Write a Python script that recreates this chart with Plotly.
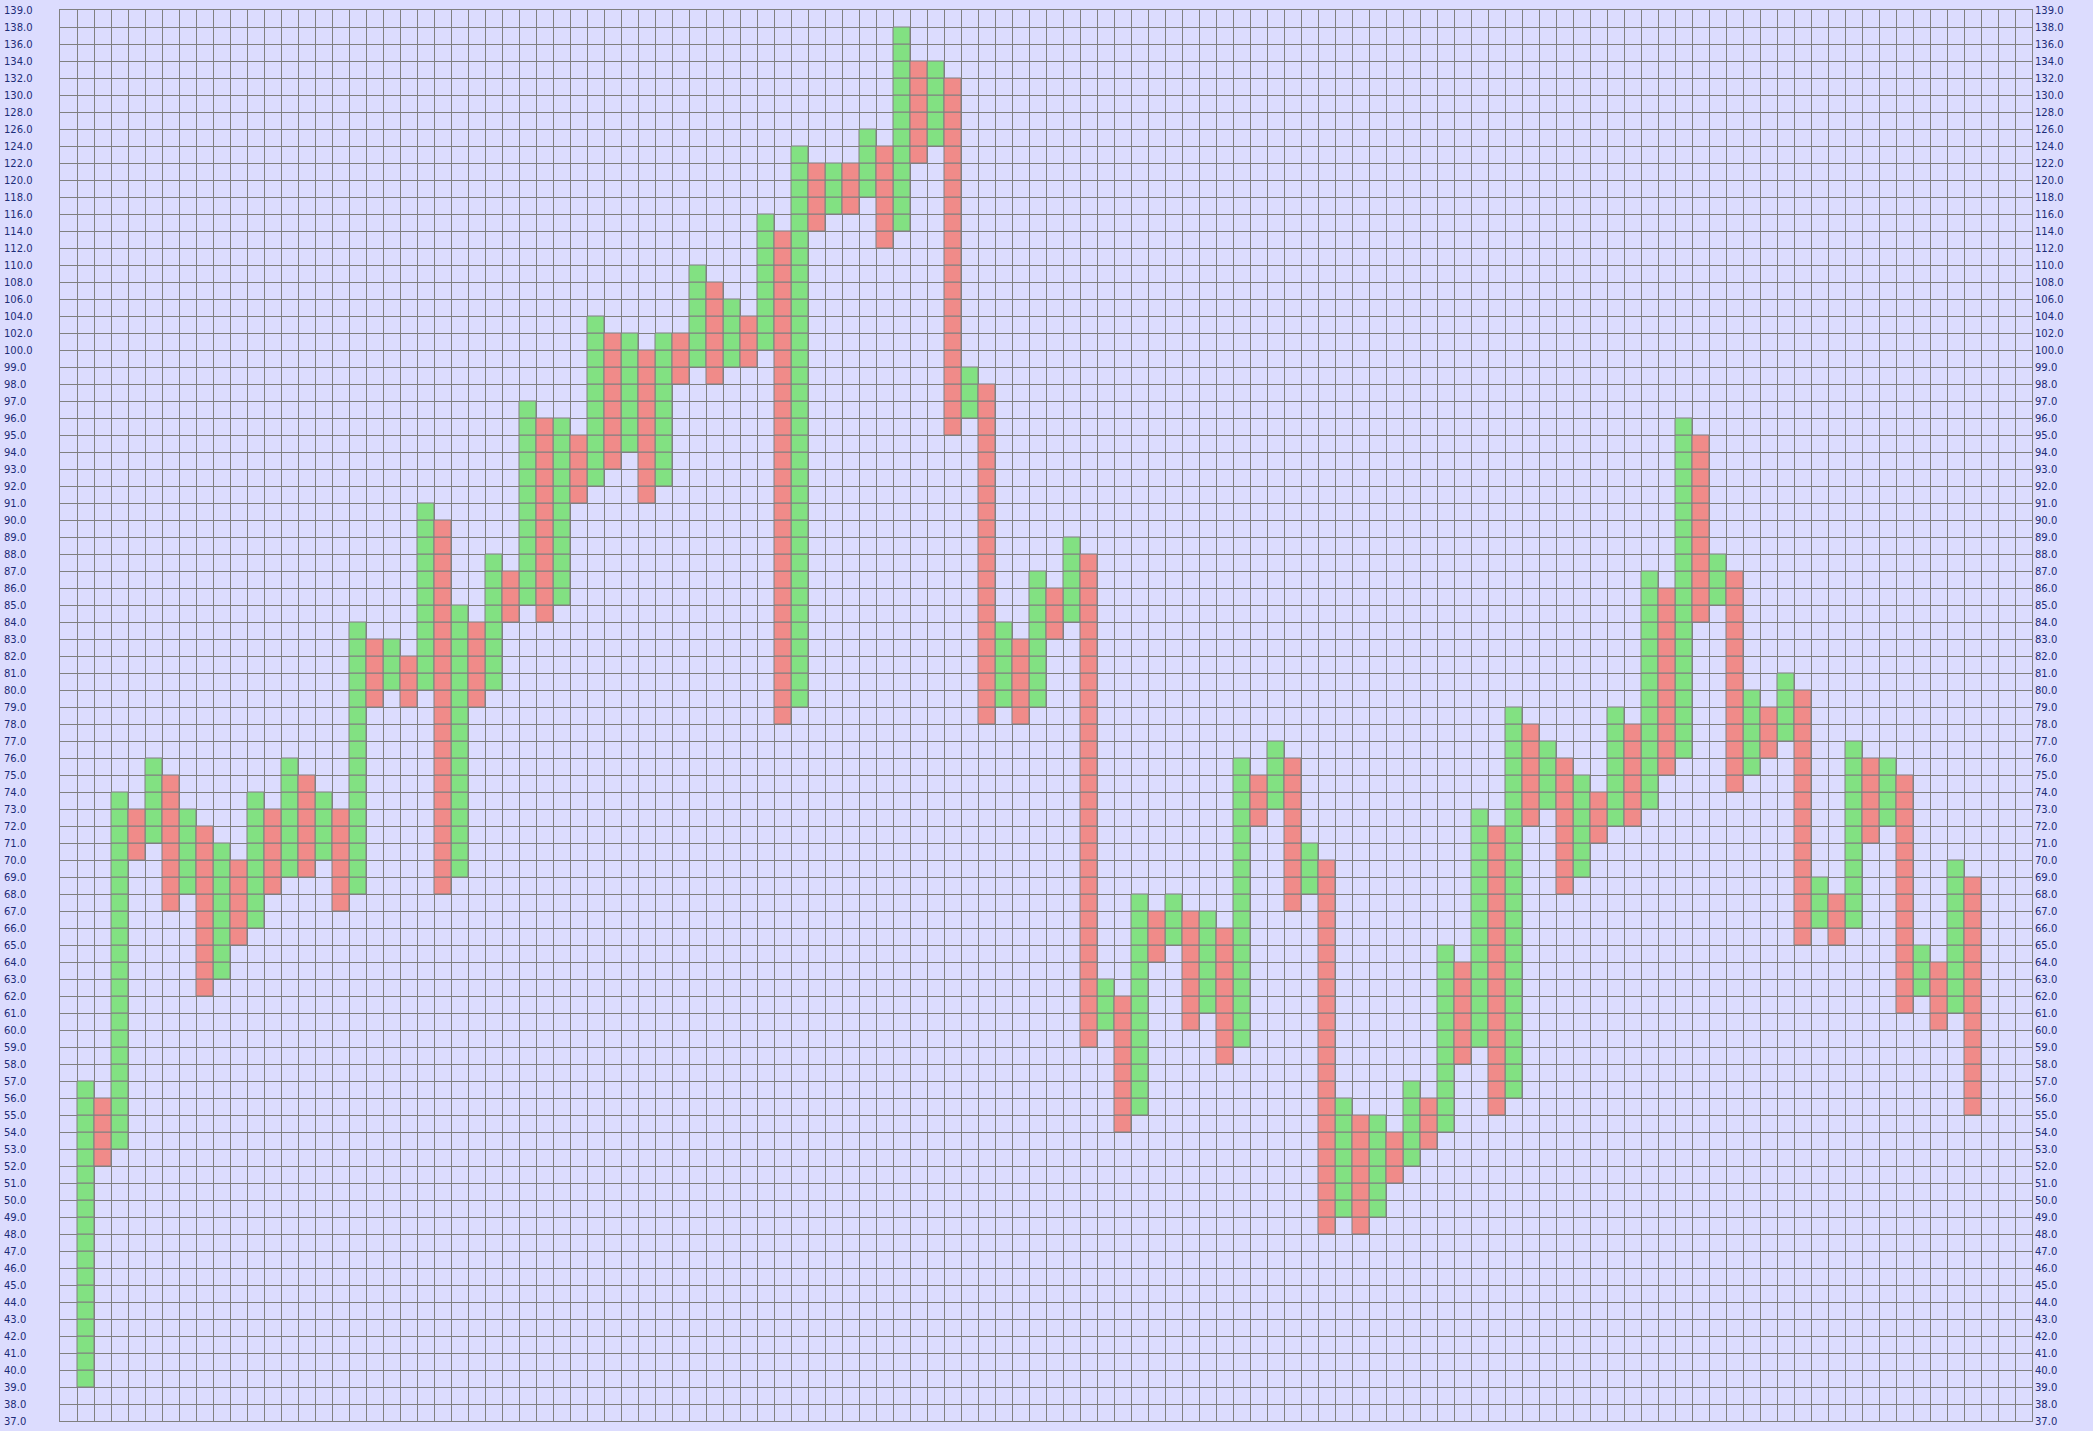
import plotly.graph_objects as go

# ---- data -------------------------------------------------------------
# price levels (row labels, bottom -> top); box size 1 below 100, 2 above
levels = list(range(37, 100)) + list(range(100, 139, 2)) + [139]
level_labels = [f"{v:.1f}" for v in levels]

# one entry per column (columns 1..112); low / high price of each column
col_low = [39, 52, 53, 70, 71, 67, 68, 62, 63, 65, 66, 68, 69, 69, 70, 67,
           68, 79, 80, 79, 80, 68, 69, 79, 80, 84, 85, 84, 85, 91, 92, 93,
           94, 91, 92, 98, 99, 98, 99, 99, 100, 78, 79, 114, 116, 116, 118, 112,
           114, 122, 124, 95, 96, 78, 79, 78, 79, 83, 84, 59, 60, 54, 55, 64,
           65, 60, 61, 58, 59, 72, 73, 67, 68, 48, 49, 48, 49, 51, 52, 53,
           54, 58, 59, 55, 56, 72, 73, 68, 69, 71, 72, 72, 73, 75, 76, 84,
           85, 74, 75, 76, 77, 65, 66, 65, 66, 71, 72, 61, 62, 60, 61, 55]
col_high = [57, 56, 74, 73, 76, 75, 73, 72, 71, 70, 74, 73, 76, 75, 74, 73,
            84, 83, 83, 82, 91, 90, 85, 84, 88, 87, 97, 96, 96, 95, 104, 102,
            102, 100, 102, 102, 110, 108, 106, 104, 116, 114, 124, 122, 122, 122, 126, 124,
            138, 134, 134, 132, 99, 98, 84, 83, 87, 86, 89, 88, 63, 62, 68, 67,
            68, 67, 67, 66, 76, 75, 77, 76, 71, 70, 56, 55, 55, 54, 57, 56,
            65, 64, 73, 72, 79, 78, 77, 76, 75, 74, 79, 78, 87, 86, 96, 95,
            88, 87, 80, 79, 81, 80, 69, 68, 77, 76, 76, 75, 65, 64, 70, 69]
col_dir = ["up", "down"] * 56
first_col = 1
n_cols = 116

# ---- styles -------------------------------------------------------------
BG = "#dcdcfe"
GRID = "#808080"
UP = "#82e182"
DOWN = "#f08b89"
LABEL = "#1d2c78"

idx = {v: i for i, v in enumerate(levels)}

boxes = {"up": ([], []), "down": ([], [])}
for j, (lo, hi, d) in enumerate(zip(col_low, col_high, col_dir)):
    xs, bs = boxes[d]
    for r in range(idx[lo], idx[hi]):
        xs.append(first_col + j + 0.5)
        bs.append(r)

fig = go.Figure()
for d, color in (("up", UP), ("down", DOWN)):
    xs, bs = boxes[d]
    fig.add_trace(go.Bar(
        x=xs, y=[1] * len(xs), base=bs, width=1,
        marker=dict(color=color, line=dict(color=GRID, width=1)),
        hoverinfo="skip", showlegend=False,
    ))

annotations = [
    dict(xref="paper", yref="y", x=0, y=i, xanchor="left", yanchor="middle",
         xshift=-58, text=lab, showarrow=False,
         font=dict(family="DejaVu Sans", size=10, color=LABEL))
    for i, lab in enumerate(level_labels)
]

fig.update_layout(
    width=2093, height=1431,
    margin=dict(l=60, r=61, t=10, b=10, pad=0, autoexpand=False),
    paper_bgcolor=BG, plot_bgcolor=BG,
    barmode="overlay", bargap=0,
    showlegend=False,
    annotations=annotations,
    xaxis=dict(range=[0, n_cols], tick0=0, dtick=1, showgrid=True,
               gridcolor=GRID, gridwidth=1, zeroline=False,
               showticklabels=False, ticks="", showline=True,
               linecolor=GRID, linewidth=1, mirror=True, fixedrange=True,
               automargin=False),
    yaxis=dict(range=[0, len(levels) - 1], side="right",
               tickmode="array", tickvals=list(range(len(levels))),
               ticktext=level_labels, ticks="", showgrid=True,
               gridcolor=GRID, gridwidth=1, zeroline=False,
               showline=True, linecolor=GRID, linewidth=1, mirror=True,
               tickfont=dict(family="DejaVu Sans", size=10, color=LABEL),
               fixedrange=True, automargin=False),
)

fig.write_html(
    "out.html",
    config={"displayModeBar": False, "staticPlot": True},
    post_script="document.body.style.margin='0px';"
                "document.body.style.overflow='hidden';"
                "document.body.style.background='" + BG + "';",
)
